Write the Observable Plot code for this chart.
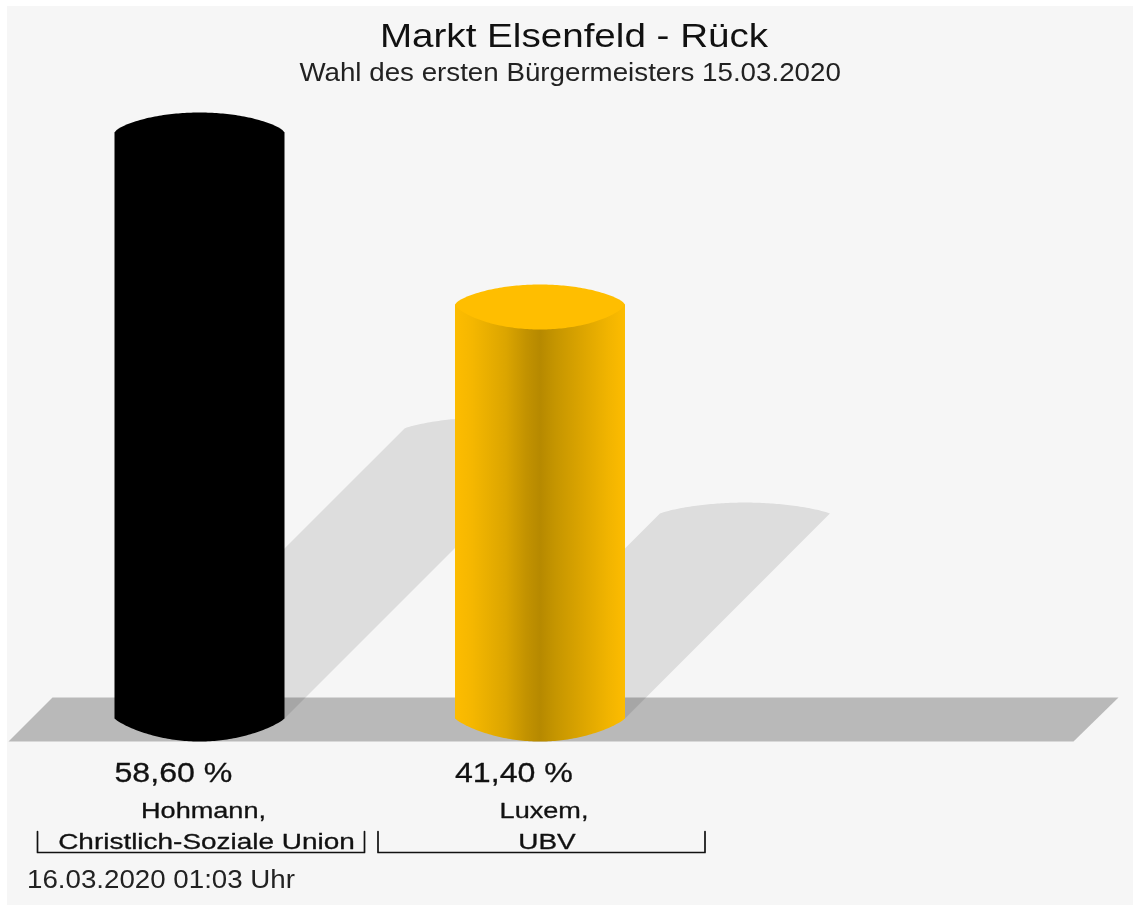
<!DOCTYPE html>
<html lang="de">
<head>
<meta charset="utf-8">
<title>Markt Elsenfeld - Rück</title>
<script src="https://cdn.jsdelivr.net/npm/d3@7"></script>
<script src="https://cdn.jsdelivr.net/npm/@observablehq/plot@0.6"></script>
<style>
  html,body{margin:0;padding:0;background:#fff;overflow:hidden;width:1133px;height:906px;}
  body{position:relative;font-family:"Liberation Sans",Arial,sans-serif;color:#111;}
  #bg{position:absolute;left:7px;top:6px;right:0;bottom:1px;background:#f6f6f6;}
  #wrap{position:absolute;left:0;top:0;width:1133px;filter:blur(0.45px);}
  #t{margin:0;padding:15px 0 0 15px;line-height:40px;font-size:34px;font-weight:400;text-align:center;height:40px;}
  #s{margin:2px 0 0 0;padding-left:8px;line-height:30px;font-size:25px;text-align:center;height:30px;color:#222;}
  #t span,#s span,#c span{display:inline-block;}
  #t span{transform:scaleX(1.135);}
  #s span{transform:scaleX(1.109);}
  #chart{margin-top:13px;height:760px;}
  #chart svg{display:block;}
  #c{margin-top:4px;padding-left:27px;line-height:30px;font-size:25px;color:#222;}
  #c span{transform:scaleX(1.108);transform-origin:left center;}
</style>
</head>
<body>
<div id="bg"></div>
<div id="wrap">
  <h1 id="t"><span>Markt Elsenfeld - Rück</span></h1>
  <div id="s"><span>Wahl des ersten Bürgermeisters 15.03.2020</span></div>
  <div id="chart"></div>
  <div id="c"><span>16.03.2020 01:03 Uhr</span></div>
</div>
<script>
// --- data ---
const candidates = ["Hohmann,", "Luxem,"];
const parties = ["Christlich-Soziale Union", "UBV"];
const shares = [58.60, 41.40];
const topColors = ["#000000", "#ffbe00"];
const bodyFills = ["#000000", "url(#cyl-yellow)"];

// --- layout (scale calibration) ---
const W = 1133, H = 760, firstCentre = 199, pxPerSlot = 340.5, pxPerPct = 10, basePx = 618;
const slotX = px => (px - firstCentre) / pxPerSlot;
const below = px => -px / pxPerPct;
const halfW = 85 / pxPerSlot;
const capUp = 20 / pxPerPct, capDown = 25 / pxPerPct, baseDown = 23 / pxPerPct, shadowUp = 11 / pxPerPct;
const shadowRatio = 0.495;
const us = d3.range(-40, 41).map(d => d / 40);
const arc = u => Math.pow(1 - u * u, 0.7);
const flatArc = u => Math.pow(1 - u * u, 0.85);

// points for a filled shape through the scales
const topCap = (i, v) => [
  ...us.map(u => ({x: i + halfW * u, y: v + capUp * arc(u)})),
  ...us.slice().reverse().map(u => ({x: i + halfW * u, y: v - capDown * arc(u)}))
];
const body = (i, v) => [
  {x: i - halfW, y: v},
  {x: i + halfW, y: v},
  ...us.slice().reverse().map(u => ({x: i + halfW * u, y: -baseDown * flatArc(u)}))
];
const shadow = (i, v) => {
  const rise = v * shadowRatio, shift = rise * pxPerPct / pxPerSlot;
  return [
    {x: i - halfW, y: 0},
    {x: i + halfW, y: 0},
    ...us.slice().reverse().map(u => ({x: i + shift + halfW * u, y: rise + shadowUp * flatArc(u)}))
  ];
};
const floor = [
  {x: slotX(8), y: below(23)},
  {x: slotX(1073), y: below(23)},
  {x: slotX(1118), y: below(-21)},
  {x: slotX(52), y: below(-21)}
];
const brackets = shares.flatMap((_, i) => {
  const c = i + 1.5 / pxPerSlot, h = 163.5 / pxPerSlot;
  return [[c - h, below(113)], [c - h, below(134)], [c + h, below(134)], [c + h, below(113)]]
    .map(([x, y]) => ({x, y, i}));
});

const defs = () => {
  const g = d3.create("svg:g");
  const lg = g.append("defs").append("linearGradient").attr("id", "cyl-yellow");
  [[0, "#fdbc00"], [0.1, "#f5b700"], [0.3, "#dba500"], [0.42, "#c29200"], [0.5, "#b68900"],
   [0.59, "#c59500"], [0.75, "#dca500"], [0.9, "#f1b400"], [1, "#fdbc00"]].forEach(([o, c]) =>
    lg.append("stop").attr("offset", o).attr("stop-color", c));
  return g.node();
};

const fillShape = (pts, fill, extra = {}) =>
  Plot.line(pts, {x: "x", y: "y", fill, stroke: "none", ...extra});

const plot = Plot.plot({
  width: W, height: H,
  margin: 0,
  style: {background: "transparent", fontFamily: "'Liberation Sans',Arial,sans-serif"},
  x: {axis: null, domain: [slotX(0), slotX(W)], range: [0, W]},
  y: {axis: null, domain: [below(H - basePx), basePx / pxPerPct], range: [H, 0]},
  marks: [
    defs,
    fillShape(floor, "#b9b9b9"),
    ...shares.map((v, i) => fillShape(shadow(i, v), "#000", {fillOpacity: 0.1})),
    ...shares.map((v, i) => fillShape(body(i, v), bodyFills[i])),
    ...shares.map((v, i) => fillShape(topCap(i, v), topColors[i])),
    Plot.text(shares, {
      x: (_, i) => i - 85 / pxPerSlot, y: below(55), text: d => d.toFixed(2).replace(".", ",") + " %",
      textAnchor: "start", fontSize: 28, fill: "#111", stroke: "#111", strokeWidth: 0.3,
      className: "stretch-share"
    }),
    Plot.text(candidates, {
      x: (_, i) => i + 4 / pxPerSlot, y: below(93), text: d => d, fontSize: 21.5, fill: "#111",
      stroke: "#111", strokeWidth: 0.3, className: "stretch-name"
    }),
    Plot.text(parties, {
      x: (_, i) => i + 7 / pxPerSlot, y: below(123.5), text: d => d, fontSize: 21.5, fill: "#111",
      stroke: "#111", strokeWidth: 0.3, className: "stretch-party"
    }),
    Plot.line(brackets, {x: "x", y: "y", z: "i", stroke: "#111", strokeWidth: 1.7})
  ]
});
document.getElementById("chart").append(plot);

// the reference's type is horizontally stretched
[["stretch-share", 1.147], ["stretch-name", 1.26], ["stretch-party", 1.3]].forEach(([cls, k]) => {
  plot.querySelectorAll(`.${cls} text`).forEach(t => {
    t.setAttribute("textLength", t.getComputedTextLength() * k);
    t.setAttribute("lengthAdjust", "spacingAndGlyphs");
  });
});
</script>
</body>
</html>
